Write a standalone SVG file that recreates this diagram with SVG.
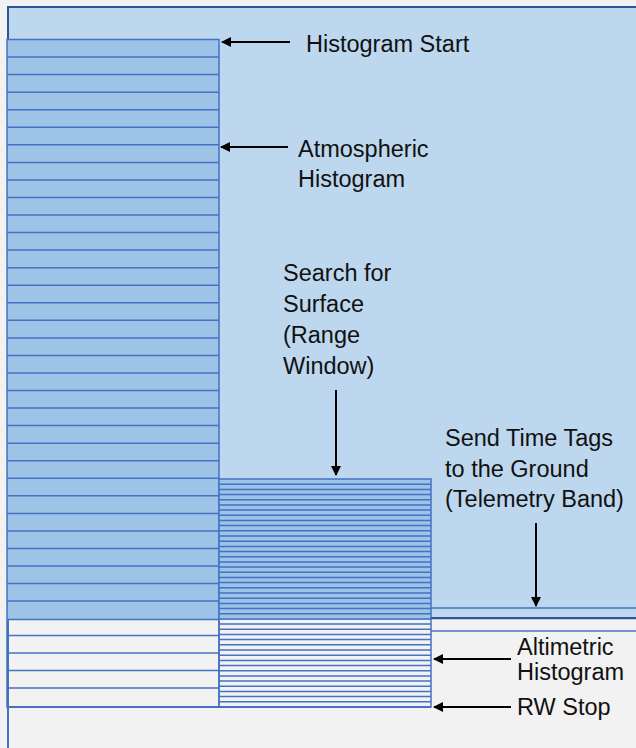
<svg xmlns="http://www.w3.org/2000/svg" width="636" height="748" viewBox="0 0 636 748">
<style>
.grid{stroke:#4472c4;stroke-width:1.5;fill:none}
.lbl{font-family:"Liberation Sans",Arial,sans-serif;font-size:23.5px;fill:#111}
.arr{stroke:#000;stroke-width:2;fill:none;marker-end:url(#ah)}
</style>
<defs>
<marker id="ah" viewBox="0 0 10 10" refX="9" refY="5" markerWidth="5" markerHeight="5" orient="auto" markerUnits="strokeWidth">
<path d="M0,0 L10,5 L0,10 z" fill="#000"/>
</marker>
</defs>
<rect x="0" y="0" width="636" height="748" fill="#f2f2f2"/>
<g id="background">
<rect x="8" y="7" width="640" height="611" fill="#bdd7ee" stroke="#2f5597" stroke-width="2"/>
<line x1="8" y1="618" x2="8" y2="748" stroke="#4472c4" stroke-width="2"/>
<line x1="8" y1="707" x2="431" y2="707" stroke="#4472c4" stroke-width="2"/>
</g>
<g id="atmospheric-histogram">
<rect x="7" y="39.5" width="212" height="580.5" fill="#9dc3e6"/>
<rect x="7" y="39.5" width="212" height="667.5" class="grid"/>
<path class="grid" d="M7,57.1H219M7,74.6H219M7,92.2H219M7,109.7H219M7,127.3H219M7,144.8H219M7,162.4H219M7,179.9H219M7,197.5H219M7,215H219M7,232.6H219M7,250.1H219M7,267.7H219M7,285.2H219M7,302.8H219M7,320.3H219M7,337.9H219M7,355.4H219M7,373H219M7,390.5H219M7,408.1H219M7,425.6H219M7,443.2H219M7,460.7H219M7,478.3H219M7,495.8H219M7,513.4H219M7,530.9H219M7,548.5H219M7,566H219M7,583.6H219M7,601.1H219M7,619.5H219M7,635.5H219M7,653H219M7,670.5H219M7,688H219"/>
</g>
<g id="range-window">
<rect x="219" y="479" width="212" height="141" fill="#9dc3e6"/>
<rect x="219" y="479" width="212" height="228" class="grid"/>
<path class="grid" d="M219,484.2H431M219,489.4H431M219,494.5H431M219,499.7H431M219,504.9H431M219,510.1H431M219,515.3H431M219,520.5H431M219,525.6H431M219,530.8H431M219,536H431M219,541.2H431M219,546.4H431M219,551.5H431M219,556.7H431M219,561.9H431M219,567.1H431M219,572.3H431M219,577.4H431M219,582.6H431M219,587.8H431M219,593H431M219,598.2H431M219,603.4H431M219,608.5H431M219,613.7H431M219,618.9H431M219,624.1H431M219,629.3H431M219,634.5H431M219,639.6H431M219,644.8H431M219,650H431M219,655.2H431M219,660.4H431M219,665.5H431M219,670.7H431M219,675.9H431M219,681.1H431M219,686.3H431M219,691.5H431M219,696.6H431M219,701.8H431"/>
</g>
<g id="telemetry-band">
<line x1="431" y1="608" x2="636" y2="608" class="grid"/>
<line x1="431" y1="618.3" x2="636" y2="618.3" stroke="#2f5597" stroke-width="2"/>
<line x1="431" y1="631" x2="636" y2="631" class="grid"/>
</g>
<g id="connectors">
<line class="arr" x1="290" y1="42" x2="222" y2="42"/>
<line class="arr" x1="288" y1="147" x2="221" y2="147"/>
<line class="arr" x1="336" y1="390" x2="336" y2="475"/>
<line class="arr" x1="536" y1="523" x2="536" y2="606"/>
<line class="arr" x1="511" y1="659" x2="434" y2="659"/>
<line class="arr" x1="511" y1="707" x2="434" y2="707"/>
</g>
<g id="labels">
<text class="lbl" x="306" y="52">Histogram Start</text>
<text class="lbl" x="298" y="157">Atmospheric</text>
<text class="lbl" x="298" y="187">Histogram</text>
<text class="lbl" x="283" y="281">Search for</text>
<text class="lbl" x="283" y="312">Surface</text>
<text class="lbl" x="283" y="343">(Range</text>
<text class="lbl" x="283" y="374">Window)</text>
<text class="lbl" x="445" y="446">Send Time Tags</text>
<text class="lbl" x="445" y="477">to the Ground</text>
<text class="lbl" x="445" y="507">(Telemetry Band)</text>
<text class="lbl" x="517" y="655">Altimetric</text>
<text class="lbl" x="517" y="680">Histogram</text>
<text class="lbl" x="517" y="715">RW Stop</text>
</g>
</svg>
